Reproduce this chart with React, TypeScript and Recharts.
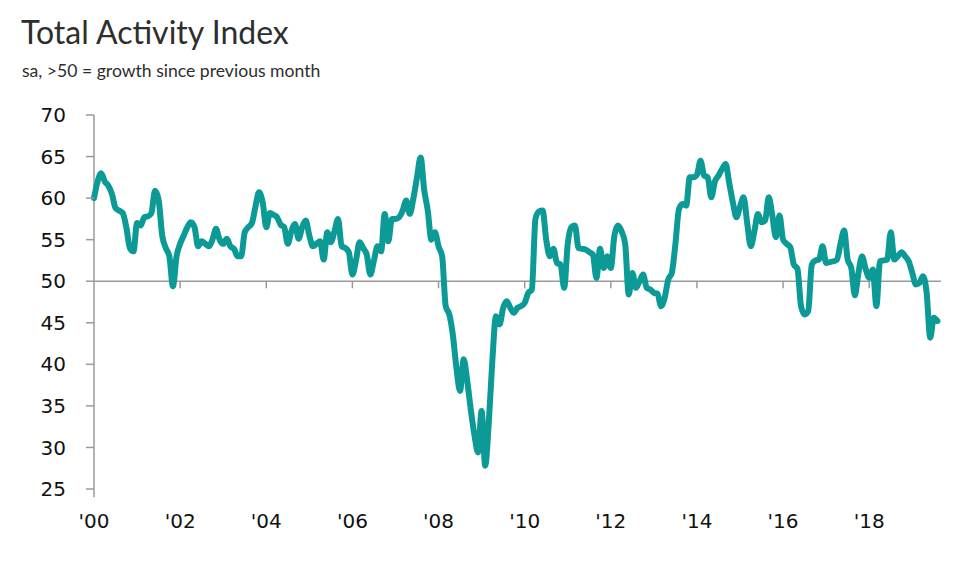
import { LineChart, Line, XAxis, YAxis, ReferenceLine } from "recharts";

// monthly readings, sa, one array per year
const y2000 = [60.0, 62.0, 63.0, 62.0, 61.5, 60.5, 58.8, 58.5, 58.2, 56.5, 54.0, 53.6];
const y2001 = [57.0, 56.7, 57.7, 57.8, 58.2, 60.9, 59.8, 55.5, 54.0, 53.0, 49.4, 53.0];
const y2002 = [54.5, 55.5, 56.5, 57.1, 56.5, 54.2, 54.8, 54.5, 54.2, 55.0, 56.3, 55.0];
const y2003 = [54.5, 55.1, 54.2, 53.9, 53.0, 53.0, 55.9, 56.5, 57.0, 59.0, 60.7, 59.5];
const y2004 = [56.5, 58.2, 58.0, 57.7, 56.8, 56.5, 54.5, 56.0, 56.9, 55.1, 56.5, 57.3];
const y2005 = [55.5, 54.2, 54.5, 54.8, 52.6, 55.9, 54.7, 56.0, 57.5, 54.2, 54.0, 53.5];
const y2006 = [50.8, 52.5, 54.7, 54.0, 53.2, 50.8, 52.5, 54.2, 53.6, 58.1, 54.8, 57.5];
const y2007 = [57.5, 57.7, 58.5, 59.7, 58.1, 60.0, 62.5, 64.9, 61.0, 58.5, 55.0, 55.9];
const y2008 = [54.2, 53.0, 47.0, 46.0, 43.5, 39.5, 36.8, 40.6, 38.0, 34.5, 31.5, 29.4];
const y2009 = [34.4, 27.8, 33.0, 40.5, 45.8, 44.8, 46.8, 47.6, 46.8, 46.2, 46.8, 47.0];
const y2010 = [47.4, 48.6, 49.0, 57.5, 58.4, 58.5, 55.0, 53.0, 53.9, 52.2, 52.0, 49.2];
const y2011 = [54.5, 56.5, 56.7, 54.0, 53.9, 53.8, 53.5, 53.2, 50.4, 53.9, 51.6, 53.0];
const y2012 = [51.6, 55.5, 56.7, 56.0, 54.5, 48.4, 51.0, 49.2, 50.0, 50.8, 49.2, 49.0];
const y2013 = [48.6, 48.5, 47.0, 48.0, 50.2, 51.0, 54.5, 58.7, 59.3, 59.1, 62.5, 62.5];
const y2014 = [62.8, 64.5, 62.7, 62.5, 60.1, 62.0, 62.7, 63.5, 64.1, 61.8, 59.5, 57.7];
const y2015 = [59.0, 60.1, 57.0, 54.2, 56.0, 58.1, 57.1, 57.3, 60.1, 57.9, 55.3, 57.9];
const y2016 = [55.0, 54.5, 54.1, 52.0, 51.5, 47.0, 46.0, 46.4, 52.0, 52.5, 52.6, 54.2];
const y2017 = [52.2, 52.3, 52.4, 52.6, 54.5, 56.1, 52.6, 51.6, 48.3, 51.0, 53.0, 51.5];
const y2018 = [50.4, 51.4, 47.0, 52.4, 52.5, 52.6, 55.9, 52.6, 53.0, 53.5, 53.0, 52.4];
const y2019 = [51.0, 49.6, 49.8, 50.6, 48.6, 43.2, 45.6, 45.2];

const xTickLabels = ["'00", "'02", "'04", "'06", "'08", "'10", "'12", "'14", "'16", "'18"];
const yTicks = [25, 30, 35, 40, 45, 50, 55, 60, 65, 70];

const values = [
  ...y2000, ...y2001, ...y2002, ...y2003, ...y2004, ...y2005, ...y2006,
  ...y2007, ...y2008, ...y2009, ...y2010, ...y2011, ...y2012, ...y2013,
  ...y2014, ...y2015, ...y2016, ...y2017, ...y2018, ...y2019,
];

const TEAL = "#0c9a96";
const GREY = "#9a9a9a";

export default function App() {
  const data = values.map((v, i) => ({ m: i, v }));
  const xTicks = xTickLabels.map((_, i) => i * 24);

  return (
    <div style={{ position: "absolute", left: 0, top: 0, width: 960, height: 577, background: "#fff", fontFamily: "Lato, sans-serif" }}>
      <div style={{ position: "absolute", left: 21, top: 12, fontSize: 32, color: "#2e2e2e", lineHeight: "40px" }}>
        Total Activity Index
      </div>
      <div style={{ position: "absolute", left: 22, top: 60, fontSize: 17.6, color: "#2e2e2e", lineHeight: "22px" }}>
        sa, &gt;50 = growth since previous month
      </div>

      <LineChart width={960} height={577} data={data} margin={{ top: 115, right: 19, bottom: 48, left: 0 }}>
        <XAxis
          dataKey="m"
          type="number"
          domain={[0, 236]}
          ticks={xTicks}
          tickFormatter={(v: number) => xTickLabels[v / 24]}
          axisLine={false}
          tickLine={false}
          tickSize={0}
          tickMargin={25}
          height={40}
          tick={{ fill: "#111", fontSize: 20, fontFamily: "DejaVu Sans" }}
          interval={0}
        />
        <YAxis
          domain={[25, 70]}
          ticks={yTicks}
          width={94}
          axisLine={false}
          tickLine={{ stroke: GREY, strokeWidth: 1.5 }}
          tickSize={8}
          tickMargin={20}
          tick={{ fill: "#111", fontSize: 20, fontFamily: "DejaVu Sans" }}
          interval={0}
        />
        {/* y axis line, runs a bit below 25 */}
        <ReferenceLine
          segment={[{ x: 0, y: 70 }, { x: 0, y: 24 }]}
          stroke={GREY}
          strokeWidth={1.5}
          ifOverflow="visible"
        />
        <ReferenceLine y={50} stroke={GREY} strokeWidth={1.5} />
        {xTicks.slice(1).map((t) => (
          <ReferenceLine
            key={t}
            segment={[{ x: t, y: 50 }, { x: t, y: 49.15 }]}
            stroke={GREY}
            strokeWidth={1.5}
          />
        ))}
        <Line
          type="monotone"
          dataKey="v"
          stroke={TEAL}
          strokeWidth={6}
          dot={false}
          strokeLinecap="round"
          strokeLinejoin="round"
          isAnimationActive={false}
        />
      </LineChart>
    </div>
  );
}
